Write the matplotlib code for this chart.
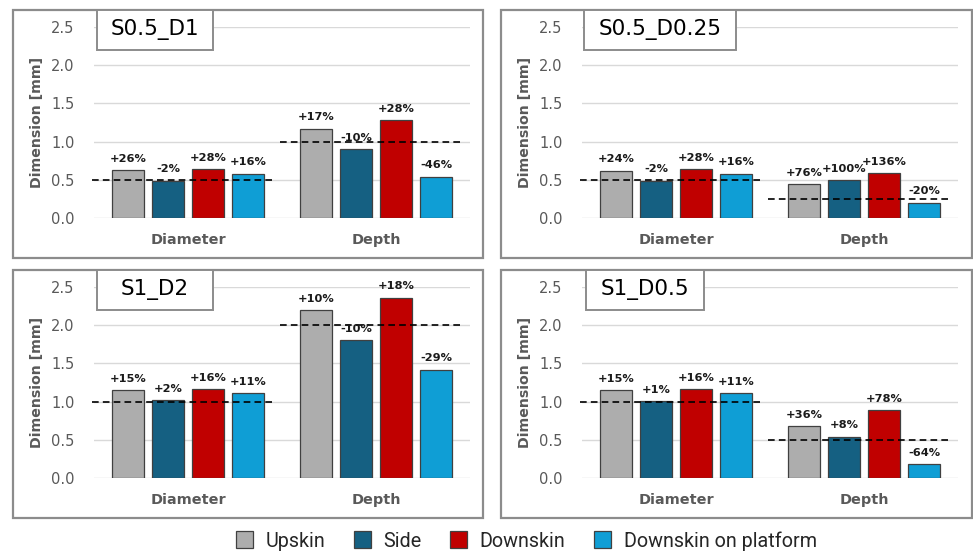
import matplotlib
matplotlib.use("Agg")

import numpy as np
import matplotlib.pyplot as plt
from matplotlib.patches import Rectangle, Patch

plt.rcParams["font.family"] = ["DejaVu Sans"]

# === data ===
panel_names = ["S0.5_D1", "S0.5_D0.25", "S1_D2", "S1_D0.5"]
categories = ["Diameter", "Depth"]
series_names = ["Upskin", "Side", "Downskin", "Downskin on platform"]
series_colors = ["#adadad", "#156082", "#c00000", "#0f9ed5"]

# nominal dimension [mm] for diameter / depth
nominal_s05_d1 = [0.5, 1.0]
nominal_s05_d025 = [0.5, 0.25]
nominal_s1_d2 = [1.0, 2.0]
nominal_s1_d05 = [1.0, 0.5]

# deviation from nominal [%] : one row per category, one value per series
dev_s05_d1 = [[26, -2, 28, 16], [17, -10, 28, -46]]
dev_s05_d025 = [[24, -2, 28, 16], [76, 100, 136, -20]]
dev_s1_d2 = [[15, 2, 16, 11], [10, -10, 18, -29]]
dev_s1_d05 = [[15, 1, 16, 11], [36, 8, 78, -64]]

nominals = [nominal_s05_d1, nominal_s05_d025, nominal_s1_d2, nominal_s1_d05]
deviations = [dev_s05_d1, dev_s05_d025, dev_s1_d2, dev_s1_d05]

yticks = [0.0, 0.5, 1.0, 1.5, 2.0, 2.5]

# === layout (pixels) ===
W, H = 973, 556


def frac(x0, y0, x1, y1):
    return [x0 / W, 1 - y1 / H, (x1 - x0) / W, (y1 - y0) / H]


borders = [(13, 10, 483, 258), (501, 10, 972, 258),
           (13, 270, 483, 518), (501, 270, 972, 518)]
plot_areas = [(94, 27, 470, 218), (582, 27, 958, 218),
              (94, 287, 470, 478), (582, 287, 958, 478)]
title_boxes = [(97, 10, 213, 50), (584, 10, 736, 50),
               (97, 270, 213, 310), (586, 270, 704, 310)]

fig = plt.figure(figsize=(W / 100, H / 100), dpi=100)

pitch = 0.2128
width = 0.170
grey_txt = "#595959"

for k in range(4):
    # panel frame
    x0, y0, x1, y1 = frac(*borders[k])
    fig.patches.append(Rectangle((x0, y0), x1, y1, transform=fig.transFigure,
                                 fill=False, edgecolor="#8c8c8c", linewidth=1.6))

    ax = fig.add_axes(frac(*plot_areas[k]))
    nom = nominals[k]
    dev = deviations[k]
    for c in range(len(categories)):
        for i in range(len(series_names)):
            xpos = c + (i - 1.5) * pitch
            val = nom[c] * (1 + dev[c][i] / 100)
            ax.bar(xpos, val, width=width, color=series_colors[i],
                   edgecolor="#404040", linewidth=0.9, zorder=3)
            ax.annotate(f"{dev[c][i]:+d}%", (xpos, val), xytext=(0, 4.5),
                        textcoords="offset points", ha="center", va="bottom",
                        fontsize=8.2, fontweight="bold", color="#1a1a1a", zorder=5)
        ax.hlines(nom[c], c - 0.51, c + 0.47, colors="black", linewidth=1.2,
                  linestyles=(0, (4, 2.5)), zorder=4, clip_on=False)

    ax.set_xlim(-0.5, 1.5)
    ax.set_ylim(0, 2.5)
    ax.set_yticks(yticks)
    ax.set_yticklabels([f"{t:.1f}" for t in yticks])
    ax.set_xticks(range(len(categories)))
    ax.set_xticklabels(categories, fontweight="bold", fontsize=10.4, color=grey_txt)
    ax.tick_params(axis="y", length=0, pad=14, labelsize=10.5, labelcolor=grey_txt)
    ax.tick_params(axis="x", length=0, pad=11)
    ax.grid(axis="y", color="#d9d9d9", linewidth=1.0, zorder=0)
    for s in ax.spines.values():
        s.set_visible(False)
    ax.set_ylabel("Dimension [mm]", fontweight="bold", fontsize=10.2,
                  color=grey_txt, labelpad=5)

    # panel title box
    tx0, ty0, tx1, ty1 = frac(*title_boxes[k])
    fig.patches.append(Rectangle((tx0, ty0), tx1, ty1, transform=fig.transFigure,
                                 facecolor="white", edgecolor="#8c8c8c",
                                 linewidth=1.4, zorder=6))
    fig.text(tx0 + tx1 / 2, ty0 + ty1 / 2, panel_names[k], ha="center",
             va="center", fontsize=15.5, color="black", zorder=7)

handles = [Patch(facecolor=col, edgecolor="#404040", linewidth=0.9)
           for col in series_colors]
fig.legend(handles, series_names, loc="center", bbox_to_anchor=(0.541, 1 - 541 / H),
           ncol=4, frameon=False, prop={"family": "Roboto", "size": 14.2},
           handlelength=0.85, handleheight=0.95,
           handletextpad=0.65, columnspacing=1.45, labelcolor="#262626")

plt.savefig("out.png", dpi=100)
plt.close()
